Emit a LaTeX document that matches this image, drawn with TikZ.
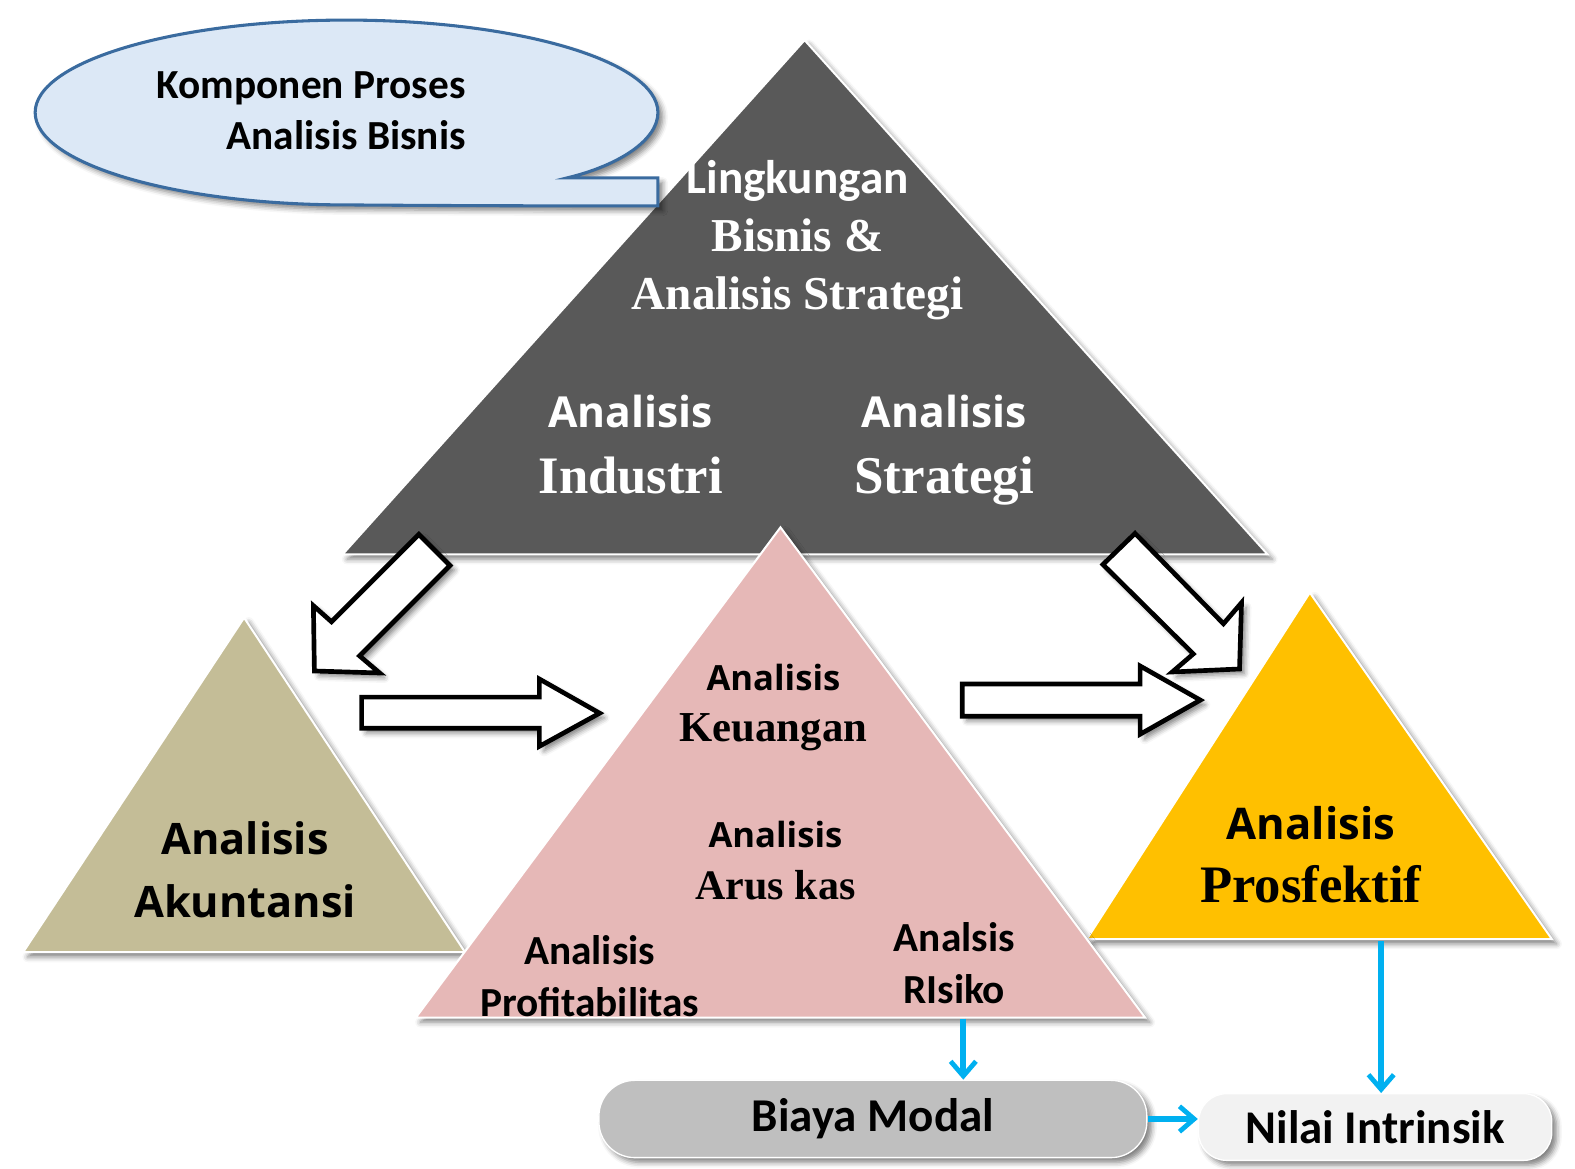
\documentclass[tikz,border=0pt]{standalone}
\usepackage{fontspec}
\setmainfont{Carlito}
\newfontfamily\calib{Carlito}
\newfontfamily\osans{Open Sans}
\newfontfamily\tnr{Liberation Serif}
\usetikzlibrary{arrows.meta,shadows.blur}

\definecolor{greytri}{HTML}{595959}
\definecolor{pinktri}{HTML}{E6B8B7}
\definecolor{khakitri}{HTML}{C4BD97}
\definecolor{goldtri}{HTML}{FFC000}
\definecolor{bubblefill}{HTML}{DCE8F6}
\definecolor{bubbleline}{HTML}{3A6B9F}
\definecolor{biayafill}{HTML}{BFBFBF}
\definecolor{nilaifill}{HTML}{F2F2F2}
\definecolor{flowblue}{HTML}{00B0F0}

\tikzset{every picture/.style={line width=0.75pt}}
\tikzset{
  softshadow/.style={blur shadow={shadow xshift=3.5pt, shadow yshift=-3.5pt, shadow blur radius=4pt, shadow opacity=50}},
  tri/.style={draw=white, line width=1.5pt, softshadow},
  bubble/.style={draw=bubbleline, fill=bubblefill, line width=2.3pt, softshadow},
  blkarrow/.style={draw=black, fill=white, line width=3.5pt, line join=miter, softshadow},
  pill/.style={draw=white, line width=1pt, softshadow, inner sep=0pt},
  flow/.style={draw=flowblue, line width=4.2pt, -{Straight Barb[length=11pt, width=19pt, line width=3.6pt]}},
  lbl/.style={align=center, inner sep=0pt}
}

\begin{document}
\begin{tikzpicture}[x=0.7534pt,y=0.7534pt,yscale=-1,xscale=1]
	\useasboundingbox (0,0) rectangle (1568,1163);

	%Shape: Triangle (grey, top)
	\draw [tri, fill=greytri] (801,40) -- (1262,552) -- (341,552) -- cycle ;
	%Shape: Oval Callout
	\draw [bubble] (655,205) -- (655,177) -- (565,177) .. controls (615,165) and (655,140) .. (655,112) arc [start angle=0, end angle=-270, x radius=310, y radius=92] .. controls (480,205) and (580,205) .. (655,205) -- cycle ;
	%Shape: Triangle (akuntansi)
	\draw [tri, fill=khakitri] (243,615) -- (463,948) -- (23,948) -- cycle ;
	%Shape: Triangle (prosfektif)
	\draw [tri, fill=goldtri] (1304,590) -- (1545,935) -- (1082,935) -- cycle ;
	%Shape: Triangle (keuangan)
	\draw [tri, fill=pinktri] (777,525) -- (1140,1013) -- (414,1013) -- cycle ;

	%Shape: Block Arrows
	\draw [blkarrow] (417,532) -- (448,563) -- (358,653) -- (378,670) -- (313,668) -- (312,603) -- (330,619) -- cycle ;
	\draw [blkarrow] (360,694) -- (537,694) -- (537,676) -- (597,710) -- (537,743) -- (537,725) -- (360,725) -- cycle ;
	\draw [blkarrow] (958,681) -- (1135,681) -- (1135,663) -- (1195,697) -- (1135,731) -- (1135,713) -- (958,713) -- cycle ;
	\draw [blkarrow] (1130,531) -- (1218,621) -- (1236,600) -- (1234,666) -- (1167,669) -- (1188,651) -- (1098,562) -- cycle ;

	% Text Node
	\draw (464,110) node (komponen) [lbl, anchor=east, align=right, font=\calib\bfseries\fontsize{31}{38.4}\selectfont] {Komponen Proses\\Analisis Bisnis};
	% Text Node
	\draw (794,239) node (lingkungan) [lbl, text=white, font=\bfseries\fontsize{35.4}{43.3}\selectfont] {{\calib Lingkungan}\\{\tnr Bisnis \&}\\{\tnr Analisis Strategi}};
	% Text Node
	\draw (628,443) node (industri) [lbl, text=white, font=\bfseries\fontsize{32}{49.5}\selectfont] {{\osans Analisis}\\{\tnr\fontsize{39.5}{49.5}\selectfont Industri}};
	% Text Node
	\draw (940,448) node (strategi) [lbl, text=white, font=\bfseries\fontsize{32}{49.5}\selectfont] {{\osans Analisis}\\{\tnr\fontsize{39.8}{49.5}\selectfont Strategi}};
	% Text Node
	\draw (770,704) node (keuangan) [lbl, font=\bfseries\fontsize{26}{38.4}\selectfont] {{\osans Analisis}\\{\tnr\fontsize{32}{38.4}\selectfont Keuangan}};
	% Text Node
	\draw (772,857) node (aruskas) [lbl, font=\bfseries\fontsize{26}{39}\selectfont] {{\osans Analisis}\\{\tnr\fontsize{31.5}{39}\selectfont Arus kas}};
	% Text Node
	\draw (587,972) node (profit) [lbl, font=\calib\bfseries\fontsize{31}{39}\selectfont] {Analisis\\Profitabilitas};
	% Text Node
	\draw (950,959) node (risiko) [lbl, font=\calib\bfseries\fontsize{31}{39}\selectfont] {Analsis\\RIsiko};
	% Text Node
	\draw (244,866) node (akuntansi) [lbl, font=\osans\bfseries\fontsize{32.5}{47.5}\selectfont] {Analisis\\Akuntansi};
	% Text Node
	\draw (1305,851) node (prosfektif) [lbl, font=\bfseries\fontsize{32.7}{46.7}\selectfont] {{\osans Analisis}\\{\tnr\fontsize{39.5}{46.7}\selectfont Prosfektif}};

	%Shape: Rounded Rectangles
	\draw (869,1114) node (biaya) [pill, fill=biayafill, rounded corners=27pt, minimum width=411pt, minimum height=58pt, font=\calib\bfseries\fontsize{35.3}{42}\selectfont] {Biaya Modal};
	\draw (1369,1122) node (nilai) [pill, fill=nilaifill, rounded corners=21pt, minimum width=265pt, minimum height=50pt, font=\calib\bfseries\fontsize{35.2}{42}\selectfont] {Nilai Intrinsik};

	%Straight Lines
	\coordinate (risikofoot) at (959,1014);
	\coordinate (prosfoot) at (1375,937);
	\draw [flow] (risikofoot) -- (risikofoot |- biaya.north) ;
	\draw [flow] (prosfoot) -- (prosfoot |- nilai.north) ;
	\draw [flow] (biaya.east) -- (biaya.east -| nilai.west) ;

\end{tikzpicture}
\end{document}
